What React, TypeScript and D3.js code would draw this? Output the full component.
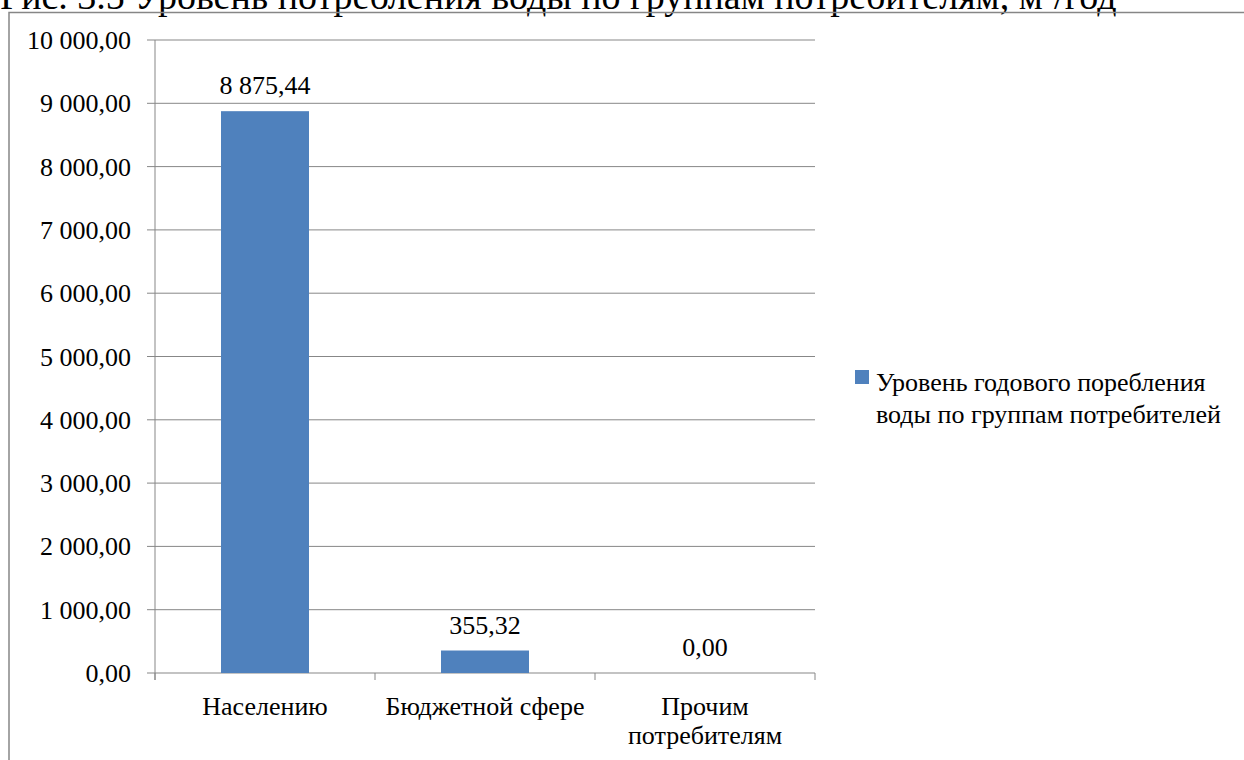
import React from "react";
import * as d3 from "d3";

const categories: string[][] = [["Населению"], ["Бюджетной сфере"], ["Прочим", "потребителям"]];
const values: number[] = [8875.44, 355.32, 0];
const yTicks: number[] = [0, 1000, 2000, 3000, 4000, 5000, 6000, 7000, 8000, 9000, 10000];
const seriesName: string[] = ["Уровень годового поребления", "воды по группам потребителей"];
const title = "Рис. 3.5 Уровень потребления воды по группам потребителям, м³/год";

const W = 1244, H = 760;
const FONT = "'Liberation Serif', 'Times New Roman', serif";
const BLUE = "#4f81bd";
const GRID = "#878787";
const FS = 26;

function fmt(v: number): string {
  const s = v.toFixed(2);
  const [i, d] = s.split(".");
  const int = i.replace(/\B(?=(\d{3})+(?!\d))/g, " ");
  return int + "," + d;
}

export default function App() {
  const x = d3.scaleBand<number>().domain(d3.range(categories.length)).range([155, 815]).paddingInner(0).paddingOuter(0);
  const y = d3.scaleLinear().domain([0, 10000]).range([673, 40]);
  const bw = x.bandwidth() * 0.4;
  return (
    <div style={{ position: "absolute", left: 0, top: 0, width: W, height: H, overflow: "hidden", background: "#fff" }}>
      <svg width={W} height={H} style={{ display: "block" }}>
        <rect x={0} y={0} width={W} height={H} fill="#fff" />
        <text x={0} y={9} fontFamily={FONT} fontSize={38} fill="#000">{title}</text>
        <rect x={9} y={12.5} width={W + 20} height={H + 20} fill="none" stroke="#868686" strokeWidth={1.5} />
        {yTicks.map((t) => (
          <g key={t}>
            <line x1={147} x2={815} y1={y(t)} y2={y(t)} stroke={GRID} strokeWidth={1} />
            <text x={131} y={y(t) + 9} textAnchor="end" fontFamily={FONT} fontSize={FS} fill="#000">{fmt(t)}</text>
          </g>
        ))}
        <line x1={155} x2={155} y1={40} y2={680} stroke={GRID} strokeWidth={1} />
        {d3.range(categories.length + 1).map((i) => {
          const xx = i < categories.length ? (x(i) as number) : (x(categories.length - 1) as number) + x.bandwidth();
          return <line key={i} x1={xx} x2={xx} y1={673} y2={680} stroke={GRID} strokeWidth={1} />;
        })}
        {values.map((v, i) => {
          const cx = (x(i) as number) + x.bandwidth() / 2;
          return (
            <g key={i}>
              {v > 0 && <rect x={cx - bw / 2} y={y(v)} width={bw} height={y(0) - y(v)} fill={BLUE} />}
              <text x={cx} y={y(v) - 17} textAnchor="middle" fontFamily={FONT} fontSize={FS} fill="#000">{fmt(v)}</text>
              {categories[i].map((ln, j) => (
                <text key={j} x={cx} y={715 + j * 29} textAnchor="middle" fontFamily={FONT} fontSize={FS} fill="#000">{ln}</text>
              ))}
            </g>
          );
        })}
        <rect x={855} y={370} width={14} height={14} fill={BLUE} />
        {seriesName.map((ln, j) => (
          <text key={j} x={876} y={391 + j * 31.5} fontFamily={FONT} fontSize={FS} fill="#000">{ln}</text>
        ))}
      </svg>
    </div>
  );
}
